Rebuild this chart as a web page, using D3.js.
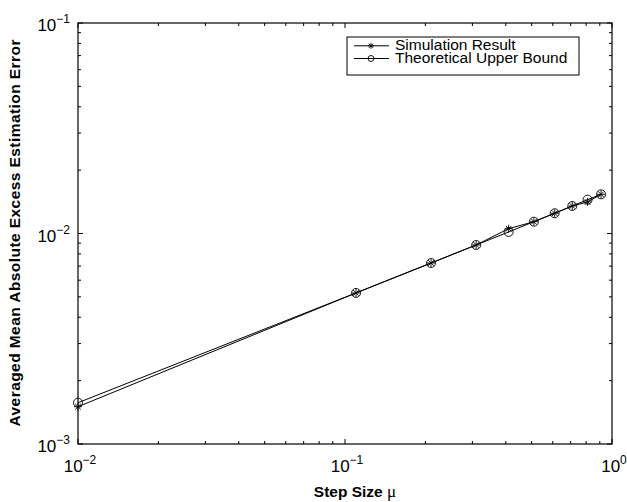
<!DOCTYPE html>
<html><head><meta charset="utf-8">
<script src="https://cdn.jsdelivr.net/npm/d3@7"></script>
<style>body{margin:0;background:#fff}svg{display:block}text{font-family:"Liberation Sans",Arial,Helvetica,sans-serif}</style>
</head><body>
<script>
const stepSizes = [0.01, 0.11, 0.21, 0.31, 0.41, 0.51, 0.61, 0.71, 0.81, 0.91];
const simulation = [1.504e-3, 5.22e-3, 7.24e-3, 8.82e-3, 1.054e-2, 1.138e-2, 1.248e-2, 1.351e-2, 1.412e-2, 1.535e-2];
const theoretical = [1.571e-3, 5.22e-3, 7.24e-3, 8.82e-3, 1.017e-2, 1.138e-2, 1.248e-2, 1.351e-2, 1.448e-2, 1.535e-2];
const xTickExps = [-2, -1, 0];
const yTickExps = [-3, -2, -1];
const seriesNames = ["Simulation Result", "Theoretical Upper Bound"];

const W = 627, H = 502;
const m = {left: 78, right: 15, top: 23, bottom: 58};
const svg = d3.select("body").append("svg").attr("width", W).attr("height", H);
const x = d3.scaleLog().domain([1e-2, 1]).range([m.left, W - m.right]);
const y = d3.scaleLog().domain([1e-3, 1e-1]).range([H - m.bottom, m.top]);
const x0 = x.range()[0], x1 = x.range()[1], y0 = y.range()[0], y1 = y.range()[1];

const g = svg.append("g");
const minor = v => { const e = Math.log10(v); return Math.abs(e - Math.round(e)) > 1e-9; };
x.ticks().forEach(v => {
  const L = minor(v) ? 3 : 5, px = x(v);
  g.append("line").attr("x1", px).attr("x2", px).attr("y1", y0).attr("y2", y0 - L).attr("stroke", "#000");
  g.append("line").attr("x1", px).attr("x2", px).attr("y1", y1).attr("y2", y1 + L).attr("stroke", "#000");
});
y.ticks().forEach(v => {
  const L = minor(v) ? 3 : 5, py = y(v);
  g.append("line").attr("y1", py).attr("y2", py).attr("x1", x0).attr("x2", x0 + L).attr("stroke", "#000");
  g.append("line").attr("y1", py).attr("y2", py).attr("x1", x1).attr("x2", x1 - L).attr("stroke", "#000");
});
g.append("rect").attr("x", x0).attr("y", y1).attr("width", x1 - x0).attr("height", y0 - y1)
  .attr("fill", "none").attr("stroke", "#000").attr("stroke-width", 1.2);

// tick labels
xTickExps.forEach(e => {
  const t = g.append("text").attr("x", x(Math.pow(10, e)) + 2).attr("y", y0 + 28).attr("text-anchor", "middle").attr("font-size", 17);
  t.append("tspan").text("10");
  t.append("tspan").attr("dy", -8).attr("font-size", 12).text(e === 0 ? "0" : "\u2212" + Math.abs(e));
});
yTickExps.forEach(e => {
  const t = g.append("text").attr("x", x0 - 8).attr("y", y(Math.pow(10, e)) + 8).attr("text-anchor", "end").attr("font-size", 17);
  t.append("tspan").text("10");
  t.append("tspan").attr("dy", -8).attr("font-size", 12).text("\u2212" + Math.abs(e));
});

// axis labels
svg.append("text").attr("x", 355).attr("y", 497).attr("text-anchor", "middle")
  .attr("font-size", 15.5).attr("font-weight", "bold")
  .html('Step Size <tspan font-weight="normal" font-family="Liberation Serif, Times New Roman, serif" font-size="17">\u03bc</tspan>');
svg.append("text").attr("transform", `translate(20,233) rotate(-90)`).attr("text-anchor", "middle")
  .attr("font-size", 15.5).attr("font-weight", "bold").attr("textLength", 387).attr("lengthAdjust", "spacing")
  .text("Averaged Mean Absolute Excess Estimation Error");

// lines
const line = d3.line().x(d => x(d[0])).y(d => y(d[1]));
const simPts = stepSizes.map((s, i) => [s, simulation[i]]);
const thPts = stepSizes.map((s, i) => [s, theoretical[i]]);
svg.append("path").attr("d", line(simPts)).attr("fill", "none").attr("stroke", "#000").attr("stroke-width", 1);
svg.append("path").attr("d", line(thPts)).attr("fill", "none").attr("stroke", "#000").attr("stroke-width", 1);

function star(sel, cx, cy, r) {
  const gg = sel.append("g").attr("stroke", "#000").attr("stroke-width", 0.9);
  [0, 45, 90, 135].forEach(a => {
    const rad = a * Math.PI / 180;
    gg.append("line").attr("x1", cx - r * Math.cos(rad)).attr("y1", cy - r * Math.sin(rad))
      .attr("x2", cx + r * Math.cos(rad)).attr("y2", cy + r * Math.sin(rad));
  });
}
function circ(sel, cx, cy, r) {
  sel.append("circle").attr("cx", cx).attr("cy", cy).attr("r", r).attr("fill", "none").attr("stroke", "#000").attr("stroke-width", 0.9);
}
thPts.forEach(d => circ(svg, x(d[0]), y(d[1]), 4.5));
simPts.forEach(d => star(svg, x(d[0]), y(d[1]), 4));

// legend
const lg = svg.append("g");
lg.append("rect").attr("x", 347).attr("y", 37).attr("width", 232).attr("height", 38)
  .attr("fill", "#fff").attr("stroke", "#000").attr("stroke-width", 1);
seriesNames.forEach((n, i) => {
  const yy = 45.8 + i * 12.7;
  lg.append("line").attr("x1", 354).attr("x2", 389).attr("y1", yy).attr("y2", yy).attr("stroke", "#000");
  if (i === 0) star(lg, 371, yy, 3); else circ(lg, 371, yy, 3);
  lg.append("text").attr("x", 395).attr("y", yy + 4.6).attr("font-size", 15.5).text(n);
});
</script>
</body></html>
